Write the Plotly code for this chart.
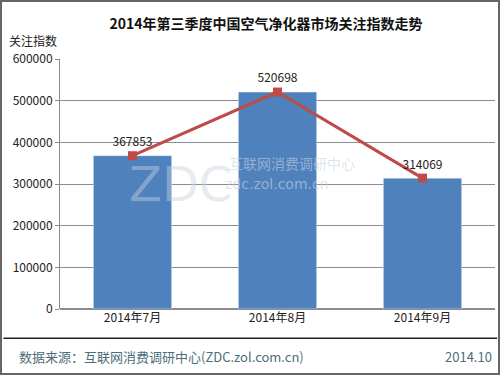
import plotly.graph_objects as go

categories = ["2014年7月", "2014年8月", "2014年9月"]
values = [367853, 520698, 314069]
tick_vals = [0, 100000, 200000, 300000, 400000, 500000, 600000]
tick_text = [str(v) for v in tick_vals]

font_main = "Noto Sans CJK SC, Lato, sans-serif"

fig = go.Figure()
fig.add_trace(go.Bar(x=categories, y=values, marker_color="#4f81bd", width=0.54,
                     showlegend=False, hoverinfo="skip"))
fig.add_trace(go.Scatter(x=categories, y=values, mode="lines+markers+text",
                         line=dict(color="#be4b48", width=3),
                         marker=dict(symbol="square", size=9, color="#be4b48"),
                         text=[str(v) for v in values], textposition="top center",
                         textfont=dict(size=12, color="#222", family=font_main),
                         showlegend=False))

fig.update_layout(
    width=500, height=375,
    margin=dict(l=60, r=5, t=59, b=66),
    paper_bgcolor="white", plot_bgcolor="white",
    font=dict(family=font_main, size=12, color="#333"),
    title=dict(text="<b>2014年第三季度中国空气净化器市场关注指数走势</b>",
               x=0.532, xanchor="center", y=0.935, yanchor="middle",
               font=dict(size=14, color="#111")),
    xaxis=dict(showline=False, ticks="", tickfont=dict(size=12, color="#222")),
    yaxis=dict(range=[0, 600000], tickvals=tick_vals, ticktext=tick_text,
               showgrid=True, gridcolor="#8c8c8c", gridwidth=1,
               showline=True, linecolor="#8c8c8c", ticks="outside", ticklen=4,
               tickcolor="#8c8c8c", zeroline=True, zerolinecolor="#8c8c8c",
               tickfont=dict(size=12, color="#222")),
    bargap=0.46,
)

# y-axis title
fig.add_annotation(text="关注指数", xref="paper", yref="paper", x=-0.063, y=1.0,
                   xanchor="center", yanchor="bottom", yshift=8, showarrow=False,
                   font=dict(size=12, color="#222"))
# watermark
fig.add_annotation(text="ZDC", xref="paper", yref="paper", x=0.155, y=0.5,
                   xanchor="left", yanchor="middle", showarrow=False,
                   font=dict(size=48, color="rgba(200,210,222,0.45)", family="DejaVu Sans"))
fig.add_annotation(text="互联网消费调研中心", xref="paper", yref="paper", x=0.385, y=0.585,
                   xanchor="left", yanchor="middle", showarrow=False,
                   font=dict(size=14, color="rgba(200,210,222,0.6)"))
fig.add_annotation(text="zdc.zol.com.cn", xref="paper", yref="paper", x=0.375, y=0.5,
                   xanchor="left", yanchor="middle", showarrow=False,
                   font=dict(size=14, color="rgba(200,210,222,0.6)", family="DejaVu Sans"))
# footer
fig.add_shape(type="line", xref="paper", yref="paper", x0=-0.13, x1=1.005,
              y0=-0.117, y1=-0.117, line=dict(color="#222", width=1.5))
fig.add_annotation(text="数据来源：互联网消费调研中心(ZDC.zol.com.cn)", xref="paper", yref="paper",
                   x=-0.1, y=-0.19, xanchor="left", yanchor="middle", showarrow=False,
                   font=dict(size=13, color="#4d6e78"))
fig.add_annotation(text="2014.10", xref="paper", yref="paper", x=0.998, y=-0.19,
                   xanchor="right", yanchor="middle", showarrow=False,
                   font=dict(size=13, color="#4d6e78"))
# outer border
fig.add_shape(type="rect", xref="paper", yref="paper",
              x0=-59/435, x1=1+4/435, y0=-65/250, y1=1+58/250,
              line=dict(color="#666", width=2))

fig.write_html("out.html", config={"displayModeBar": False},
               post_script="document.body.style.margin='0';")
